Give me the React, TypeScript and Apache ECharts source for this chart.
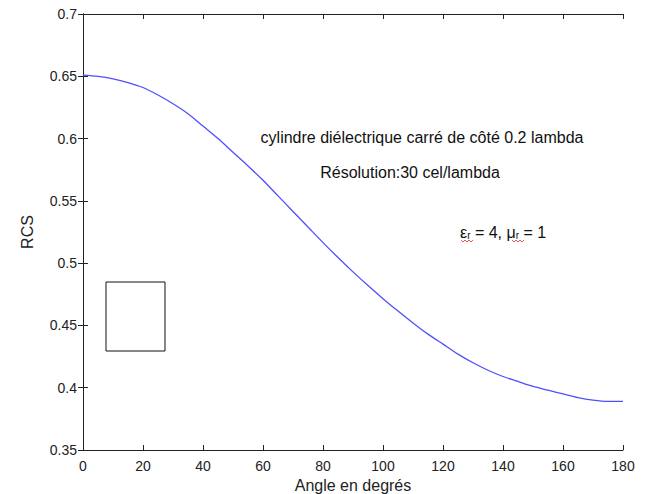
import React, { useEffect, useRef } from "react";
import * as echarts from "echarts";

const angles = [0, 5, 10, 15, 20, 25, 30, 35, 40, 45, 50, 55, 60, 65, 70, 75, 80, 85, 90, 95, 100, 105, 110, 115, 120, 125, 130, 135, 140, 145, 150, 155, 160, 165, 170, 175, 180];
const rcs = [0.651, 0.650, 0.648, 0.645, 0.641, 0.635, 0.628, 0.620, 0.610, 0.600, 0.589, 0.578, 0.5665, 0.554, 0.5415, 0.529, 0.5165, 0.5045, 0.493, 0.482, 0.4715, 0.4615, 0.452, 0.443, 0.435, 0.427, 0.420, 0.414, 0.409, 0.405, 0.401, 0.398, 0.395, 0.392, 0.390, 0.389, 0.389];
const xTicks = [0, 20, 40, 60, 80, 100, 120, 140, 160, 180];
const yTicks = [0.35, 0.4, 0.45, 0.5, 0.55, 0.6, 0.65, 0.7];
const title1 = "cylindre diélectrique carré de côté 0.2 lambda";
const title2 = "Résolution:30 cel/lambda";
const xName = "Angle en degrés";
const yName = "RCS";

const FONT = "'Liberation Sans', Arial, sans-serif";

export default function App() {
  const ref = useRef<HTMLDivElement>(null);
  useEffect(() => {
    if (!ref.current) return;
    const chart = echarts.init(ref.current, null, { renderer: "svg" });
    const axisLine = { lineStyle: { color: "#222", width: 1 } };
    const tick = { inside: true, length: 5, lineStyle: { color: "#222" } };
    const wave = (x0: number, y0: number, n: number) => {
      const pts: number[][] = [];
      for (let i = 0; i <= n; i++) pts.push([x0 + i * 2, y0 + (i % 2 === 0 ? 0 : 2)]);
      return pts;
    };
    chart.setOption({
      animation: false,
      backgroundColor: "#ffffff",
      textStyle: { fontFamily: FONT },
      grid: { left: 83, top: 14, right: 28, bottom: 44, containLabel: false, outerBoundsMode: "none" },
      xAxis: [
        {
          type: "value",
          min: 0,
          max: 180,
          interval: 20,
          name: xName,
          nameLocation: "middle",
          nameGap: 24,
          nameTextStyle: { fontSize: 16, color: "#222", fontFamily: FONT },
          axisLine,
          axisTick: tick,
          splitLine: { show: false },
          axisLabel: {
            color: "#222",
            fontSize: 14,
            margin: 9,
            fontFamily: FONT,
            formatter: (v: number) => (xTicks.includes(v) ? String(v) : ""),
          },
        },
        {
          type: "value",
          position: "top",
          min: 0,
          max: 180,
          interval: 20,
          axisLine,
          axisTick: tick,
          splitLine: { show: false },
          axisLabel: { show: false },
        },
      ],
      yAxis: [
        {
          type: "value",
          min: 0.35,
          max: 0.7,
          interval: 0.05,
          name: yName,
          nameLocation: "middle",
          nameGap: 48,
          nameRotate: 90,
          nameTextStyle: { fontSize: 16, color: "#222", fontFamily: FONT },
          axisLine,
          axisTick: tick,
          splitLine: { show: false },
          axisLabel: {
            color: "#222",
            fontSize: 14,
            margin: 6,
            fontFamily: FONT,
            formatter: (v: number) => {
              const r = Math.round(v * 100) / 100;
              return yTicks.some((t) => Math.abs(t - r) < 1e-6) ? String(r) : "";
            },
          },
        },
        {
          type: "value",
          position: "right",
          min: 0.35,
          max: 0.7,
          interval: 0.05,
          axisLine,
          axisTick: tick,
          splitLine: { show: false },
          axisLabel: { show: false },
        },
      ],
      series: [
        {
          type: "line",
          data: angles.map((a, i) => [a, rcs[i]]),
          smooth: 0.3,
          showSymbol: false,
          symbol: "none",
          lineStyle: { color: "#4f4fff", width: 1.3 },
        },
      ],
      graphic: [
        {
          type: "text",
          x: 422,
          y: 137,
          style: {
            text: title1,
            fontSize: 16,
            fontFamily: FONT,
            fill: "#111",
            textAlign: "center",
            textVerticalAlign: "middle",
          },
        },
        {
          type: "text",
          x: 410,
          y: 172,
          style: {
            text: title2,
            fontSize: 16,
            fontFamily: FONT,
            fill: "#111",
            textAlign: "center",
            textVerticalAlign: "middle",
          },
        },
        {
          type: "text",
          x: 460,
          y: 232,
          style: {
            text: "{a|ε}{s|r}{a| = 4, μ}{s|r}{a| = 1}",
            fontFamily: FONT,
            fill: "#111",
            textVerticalAlign: "middle",
            rich: {
              a: { fontSize: 16, fontFamily: FONT, fill: "#111" },
              s: { fontSize: 10, fontFamily: FONT, fill: "#111", verticalAlign: "bottom", padding: [7, 0, 0, 0] },
            },
          },
        },
        {
          type: "polyline",
          shape: { points: wave(461, 240, 6) },
          style: { stroke: "#e03030", lineWidth: 0.8, fill: "none" },
        },
        {
          type: "polyline",
          shape: { points: wave(512, 240, 6) },
          style: { stroke: "#e03030", lineWidth: 0.8, fill: "none" },
        },
        {
          type: "rect",
          shape: { x: 106, y: 282, width: 59, height: 69 },
          style: { fill: "#ffffff", stroke: "#111", lineWidth: 1 },
        },
      ],
    });
    return () => chart.dispose();
  }, []);
  return <div ref={ref} style={{ width: 651, height: 494, position: "absolute", left: 0, top: 0 }} />;
}
